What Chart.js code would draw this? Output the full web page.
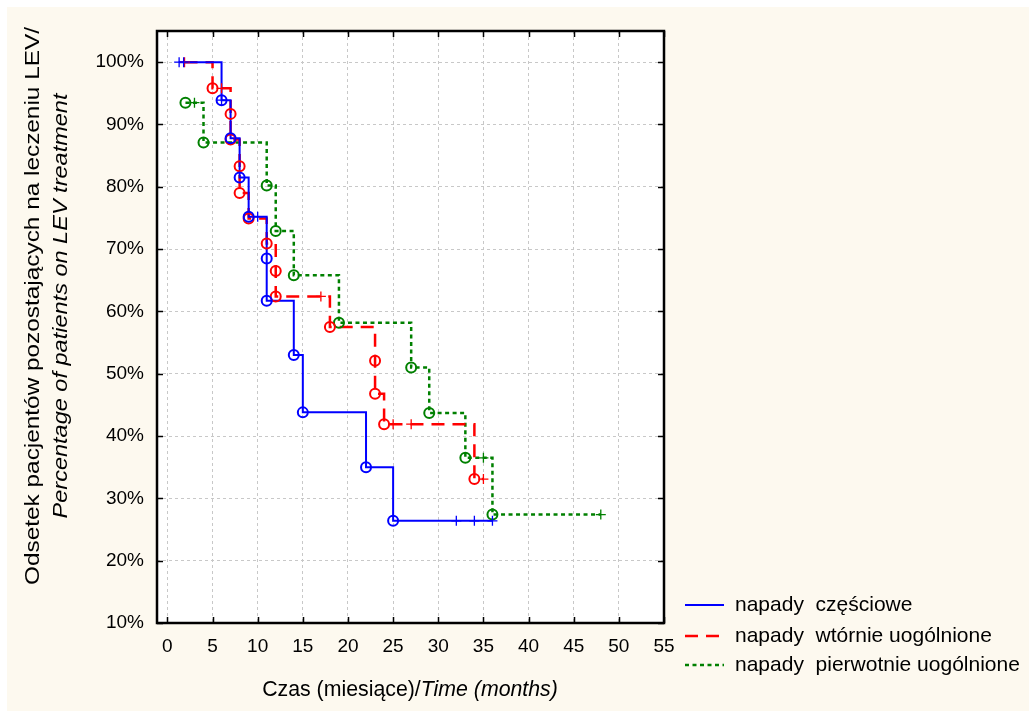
<!DOCTYPE html>
<html>
<head>
<meta charset="utf-8">
<script src="https://cdn.jsdelivr.net/npm/chart.js@4/dist/chart.umd.min.js"></script>
<style>
  html, body { margin: 0; padding: 0; background: #ffffff; }
  canvas { display: block; }
</style>
</head>
<body>
<canvas id="km" width="1029" height="711"></canvas>
<script>
// Axis tick values
const xTicks = [0, 5, 10, 15, 20, 25, 30, 35, 40, 45, 50, 55];
const yTicks = [10, 20, 30, 40, 50, 60, 70, 80, 90, 100];

// Series names (legend)
const seriesNames = ['napady  częściowe', 'napady  wtórnie uogólnione', 'napady  pierwotnie uogólnione'];

// napady częściowe: events (time in months, % remaining) and censored observations
const partialEventT = [6, 7, 8, 9, 11, 11, 14, 15, 22, 25];
const partialEventS = [93.9, 87.8, 81.5, 75.2, 68.5, 61.7, 53.0, 43.8, 35.0, 26.4];
const partialCensT = [1.3, 1.8, 6, 10, 32, 34, 36];
const partialCensS = [100, 100, 93.9, 75.2, 26.4, 26.4, 26.4];

// napady wtórnie uogólnione
const secondaryEventT = [5, 7, 7, 8, 8, 9, 11, 12, 12, 18, 23, 23, 24, 34];
const secondaryEventS = [95.8, 91.7, 87.6, 83.3, 79.0, 74.9, 70.9, 66.5, 62.4, 57.5, 52.1, 46.8, 41.9, 33.1];
const secondaryCensT = [1.9, 6, 17, 25, 27, 35];
const secondaryCensS = [100, 95.8, 62.4, 41.9, 41.9, 33.1];

// napady pierwotnie uogólnione
const primaryEventT = [2, 4, 11, 12, 14, 19, 27, 29, 33, 36];
const primaryEventS = [93.5, 87.1, 80.2, 72.9, 65.8, 58.2, 51.0, 43.7, 36.5, 27.4];
const primaryCensT = [3, 35, 48];
const primaryCensS = [93.5, 36.5, 27.4];

const FONT = '"Liberation Sans", Arial, sans-serif';
const CREAM = '#fdf9ef';

function toPoints(ts, ss) {
  return ts.map((t, i) => ({ x: t, y: ss[i] }));
}

// Step curve through every observation, in time order
function curvePoints(evT, evS, cT, cS) {
  return toPoints(evT, evS).concat(toPoints(cT, cS))
    .sort((a, b) => (a.x - b.x) || (b.y - a.y));
}

const styles = [
  { color: '#0000ff', dash: [], width: 2 },
  { color: '#ff0000', dash: [13, 8], width: 2.5 },
  { color: '#008000', dash: [4, 3.5], width: 2.5 }
];

const groups = [
  [partialEventT, partialEventS, partialCensT, partialCensS],
  [secondaryEventT, secondaryEventS, secondaryCensT, secondaryCensS],
  [primaryEventT, primaryEventS, primaryCensT, primaryCensS]
];

const datasets = [];
groups.forEach((g, i) => {
  const st = styles[i];
  datasets.push({
    label: seriesNames[i],
    data: curvePoints(g[0], g[1], g[2], g[3]),
    showLine: true,
    borderColor: st.color,
    borderWidth: st.width,
    borderDash: st.dash,
    stepped: 'before',
    pointRadius: 0,
    fill: false,
    order: 3
  });
  datasets.push({
    label: seriesNames[i] + ' (zdarzenia)',
    data: toPoints(g[0], g[1]),
    showLine: false,
    pointStyle: 'circle',
    pointRadius: 5,
    pointBorderWidth: 2,
    pointBorderColor: st.color,
    pointBackgroundColor: 'rgba(0,0,0,0)',
    order: 2
  });
  datasets.push({
    label: seriesNames[i] + ' (obserwacje ucięte)',
    data: toPoints(g[2], g[3]),
    showLine: false,
    pointStyle: 'cross',
    pointRadius: 5,
    pointBorderWidth: 1.3,
    pointBorderColor: st.color,
    order: 1
  });
});

// Background, white plotting area
const backdrop = {
  id: 'backdrop',
  beforeDraw(chart) {
    const { ctx, chartArea: a } = chart;
    ctx.save();
    ctx.fillStyle = '#ffffff';
    ctx.fillRect(0, 0, chart.width, chart.height);
    ctx.fillStyle = CREAM;
    ctx.fillRect(7, 7, chart.width - 7, chart.height - 7);
    ctx.fillStyle = '#ffffff';
    ctx.fillRect(a.left, a.top, a.right - a.left, a.bottom - a.top);
    ctx.restore();
  }
};

// Black frame with inward tick marks on all four sides
const frame = {
  id: 'frame',
  afterDraw(chart) {
    const { ctx, chartArea: a, scales } = chart;
    ctx.save();
    ctx.strokeStyle = '#000';
    ctx.lineWidth = 1.5;
    const L = 6;
    ctx.beginPath();
    xTicks.forEach(v => {
      const px = Math.round(scales.x.getPixelForValue(v)) + 0.5;
      ctx.moveTo(px, a.bottom); ctx.lineTo(px, a.bottom - L);
      ctx.moveTo(px, a.top); ctx.lineTo(px, a.top + L);
    });
    yTicks.forEach(v => {
      const py = Math.round(scales.y.getPixelForValue(v)) + 0.5;
      ctx.moveTo(a.left, py); ctx.lineTo(a.left + L, py);
      ctx.moveTo(a.right, py); ctx.lineTo(a.right - L, py);
    });
    ctx.stroke();
    ctx.lineWidth = 2.5;
    ctx.strokeRect(a.left, a.top, a.right - a.left, a.bottom - a.top);
    ctx.restore();
  }
};

// Axis titles (regular + italic parts) and legend
const xTitle = ['Czas (miesiące)/', 'Time (months)'];
const yTitle1 = 'Odsetek pacjentów pozostających na leczeniu LEV/';
const yTitle2 = 'Percentage of patients on LEV treatment';

function rotatedLine(ctx, text, x, y, font, stretch) {
  ctx.save();
  ctx.translate(x, y);
  ctx.rotate(-Math.PI / 2);
  ctx.scale(stretch, 1);
  ctx.textAlign = 'center';
  ctx.font = font;
  ctx.fillText(text, 0, 0);
  ctx.restore();
}

const annotations = {
  id: 'annotations',
  afterDraw(chart) {
    const { ctx } = chart;
    ctx.save();
    ctx.fillStyle = '#000';
    ctx.textBaseline = 'middle';

    // x title
    const fN = '21.3px ' + FONT, fI = 'italic 21.3px ' + FONT;
    ctx.font = fN; const w1 = ctx.measureText(xTitle[0]).width;
    ctx.font = fI; const w2 = ctx.measureText(xTitle[1]).width;
    const x0 = 410 - (w1 + w2) / 2;
    ctx.textAlign = 'left';
    ctx.font = fN; ctx.fillText(xTitle[0], x0, 690);
    ctx.font = fI; ctx.fillText(xTitle[1], x0 + w1, 690);

    // y title, two rotated lines
    rotatedLine(ctx, yTitle1, 33, 306, '21px ' + FONT, 1.16);
    rotatedLine(ctx, yTitle2, 61, 306, 'italic 21px ' + FONT, 1.12);

    // legend
    const rows = [605, 636, 665];
    chart.data.datasets.filter(d => d.stepped).forEach((d, i) => {
      const y = rows[i];
      ctx.save();
      ctx.strokeStyle = d.borderColor;
      ctx.lineWidth = d.borderWidth;
      ctx.setLineDash(d.borderDash);
      ctx.beginPath();
      ctx.moveTo(685, y); ctx.lineTo(724, y);
      ctx.stroke();
      ctx.restore();
      ctx.font = '21px ' + FONT;
      ctx.textAlign = 'left';
      ctx.fillText(d.label, 735, y);
    });
    ctx.restore();
  }
};

new Chart(document.getElementById('km'), {
  type: 'scatter',
  data: { datasets },
  options: {
    responsive: false,
    animation: false,
    layout: { padding: { left: 0, right: 365, top: 31, bottom: 0 } },
    plugins: { legend: { display: false }, tooltip: { enabled: false } },
    scales: {
      x: {
        type: 'linear',
        min: -1.15,
        max: 55,
        afterBuildTicks: s => { s.ticks = xTicks.map(v => ({ value: v })); },
        afterFit: s => { s.height = 88; },
        grid: { color: '#c8c8c8', lineWidth: 1, drawTicks: false },
        border: { display: false, dash: [3, 3] },
        ticks: { color: '#000', font: { family: FONT, size: 19 }, padding: 12, maxRotation: 0, autoSkip: false }
      },
      y: {
        type: 'linear',
        min: 10,
        max: 105,
        afterBuildTicks: s => { s.ticks = yTicks.map(v => ({ value: v })); },
        afterFit: s => { s.width = 157; },
        grid: { color: '#c8c8c8', lineWidth: 1, drawTicks: false },
        border: { display: false, dash: [3, 3] },
        ticks: { color: '#000', font: { family: FONT, size: 19 }, padding: 13, callback: v => v + '%' }
      }
    }
  },
  plugins: [backdrop, frame, annotations]
});
</script>
</body>
</html>
